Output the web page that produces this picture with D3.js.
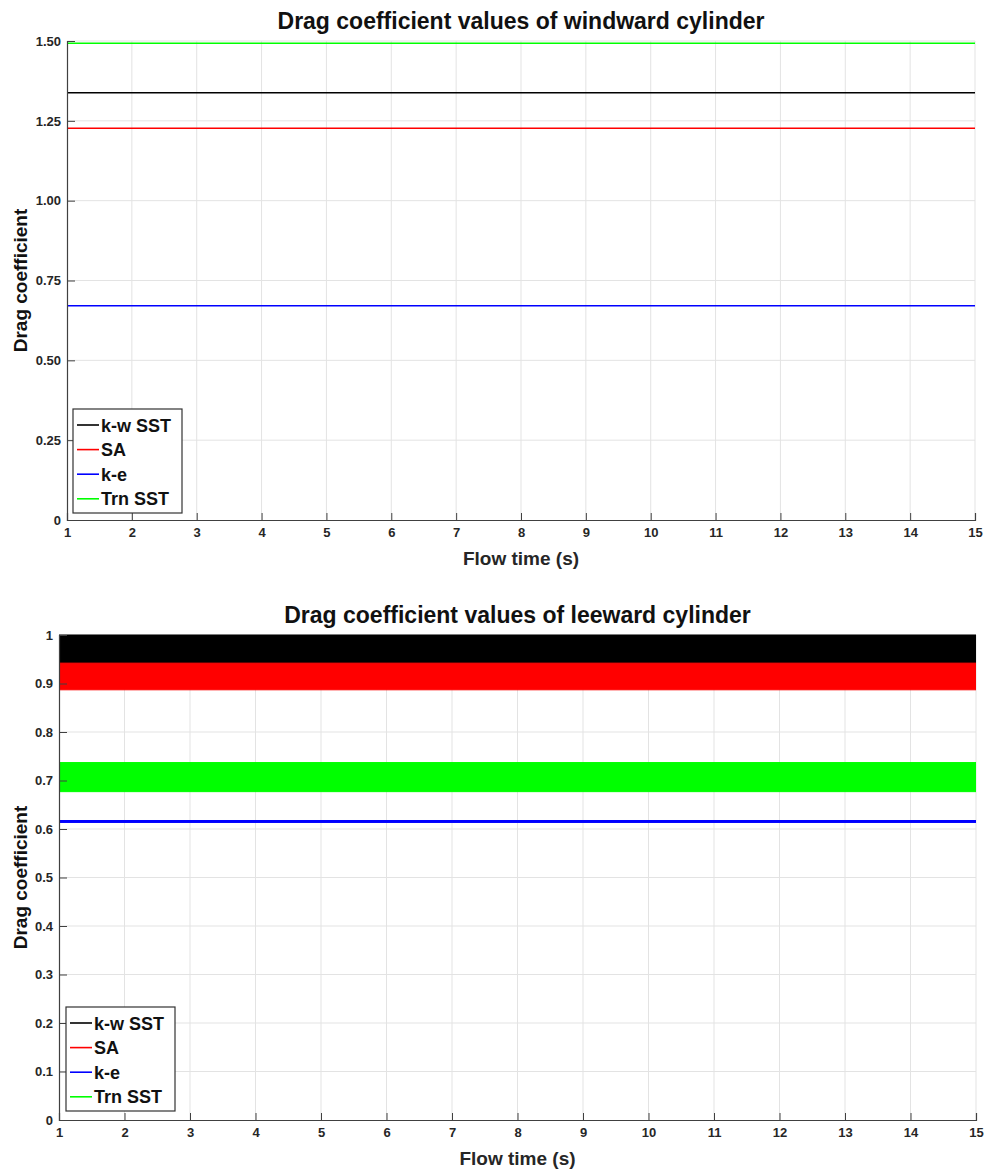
<!DOCTYPE html>
<html>
<head>
<meta charset="utf-8">
<script src="https://cdn.jsdelivr.net/npm/d3@7"></script>
<style>
  html, body { margin: 0; padding: 0; background: #fff; }
  svg { display: block; font-family: "Liberation Sans", Arial, sans-serif; }
</style>
</head>
<body>
<div id="chart"></div>
<script>
(() => {
"use strict";

const WIDTH = 988, HEIGHT = 1172;

// shared
const seriesNames = ["k-w SST", "SA", "k-e", "Trn SST"];
const seriesColors = ["#000000", "#ff0000", "#0000ff", "#00ff00"];
const timeSpan = [1, 15];
const xTicks = d3.range(1, 16);

// windward cylinder (lines, nearly flat)
const windwardValues = [1.338, 1.227, 0.671, 1.493];
const windwardTicks = [0, 0.25, 0.5, 0.75, 1.0, 1.25, 1.5];

// leeward cylinder (oscillating bands: min / max)
const leewardMin = [0.942, 0.887, 0.6135, 0.677];
const leewardMax = [1.0, 0.942, 0.6175, 0.737];
const leewardTicks = [0, 0.1, 0.2, 0.3, 0.4, 0.5, 0.6, 0.7, 0.8, 0.9, 1];

let svg = d3.select("#chart").append("svg")
  .attr("width", WIDTH)
  .attr("height", HEIGHT);

let drawPanel = function(opt) {
  let g = svg.append("g");

  let x = d3.scaleLinear().domain(timeSpan).range([opt.left, opt.right]);
  let y = d3.scaleLinear().domain(opt.yDomain).range([opt.bottom, opt.top]);

  // grid
  g.append("g").selectAll("line").data(xTicks.slice(1)).join("line")
    .attr("x1", d => x(d)).attr("x2", d => x(d))
    .attr("y1", opt.top).attr("y2", opt.bottom)
    .attr("stroke", "#e3e3e3").attr("stroke-width", 1);
  g.append("g").selectAll("line").data(opt.yTicks.slice(1)).join("line")
    .attr("x1", opt.left).attr("x2", opt.right)
    .attr("y1", d => y(d)).attr("y2", d => y(d))
    .attr("stroke", "#e3e3e3").attr("stroke-width", 1);

  // data
  let clipId = "clip" + opt.id;
  svg.append("clipPath").attr("id", clipId).append("rect")
    .attr("x", opt.left).attr("y", opt.top - 1)
    .attr("width", opt.right - opt.left).attr("height", opt.bottom - opt.top + 1);
  let dg = g.append("g").attr("clip-path", `url(#${clipId})`);

  if (opt.values) {
    let line = d3.line().x(d => x(d[0])).y(d => y(d[1]));
    opt.values.forEach((v, i) => {
      dg.append("path")
        .datum(timeSpan.map(t => [t, v]))
        .attr("d", line)
        .attr("fill", "none")
        .attr("stroke", seriesColors[i])
        .attr("stroke-width", 1.6);
    });
  } else {
    let area = d3.area().x(d => x(d[0])).y0(d => y(d[1])).y1(d => y(d[2]));
    opt.mins.forEach((v, i) => {
      dg.append("path")
        .datum(timeSpan.map(t => [t, v, opt.maxs[i]]))
        .attr("d", area)
        .attr("fill", seriesColors[i])
        .attr("stroke", seriesColors[i])
        .attr("stroke-width", 1);
    });
  }

  // axes
  let xAxis = d3.axisBottom(x).tickValues(xTicks).tickSize(-7).tickPadding(8).tickFormat(d3.format("d"));
  let gx = g.append("g").attr("transform", `translate(0,${opt.bottom})`).call(xAxis);
  let yAxis = d3.axisLeft(y).tickValues(opt.yTicks).tickSize(-8).tickPadding(6).tickFormat(opt.fmt);
  let gy = g.append("g").attr("transform", `translate(${opt.left},0)`).call(yAxis);
  [gx, gy].forEach(a => {
    a.select(".domain").attr("stroke", "#404040").attr("stroke-width", 1.2);
    a.selectAll(".tick line").attr("stroke", "#404040");
    a.selectAll(".tick text")
      .attr("fill", "#262626")
      .attr("font-size", 13)
      .attr("font-weight", "bold")
      .attr("font-family", "Liberation Sans, Arial, sans-serif");
  });

  // titles
  g.append("text")
    .attr("x", (opt.left + opt.right) / 2).attr("y", opt.titleY)
    .attr("text-anchor", "middle")
    .attr("font-size", 23).attr("font-weight", "bold").attr("fill", "#111")
    .text(opt.title);
  g.append("text")
    .attr("x", (opt.left + opt.right) / 2).attr("y", opt.bottom + 45)
    .attr("text-anchor", "middle")
    .attr("font-size", 19).attr("font-weight", "bold").attr("fill", "#262626")
    .text("Flow time (s)");
  g.append("text")
    .attr("transform", `translate(27,${(opt.top + opt.bottom) / 2}) rotate(-90)`)
    .attr("text-anchor", "middle")
    .attr("font-size", 19).attr("font-weight", "bold").attr("fill", "#111")
    .text("Drag coefficient");

  // legend
  let lg = g.append("g").attr("transform", `translate(${opt.legX},${opt.legY})`);
  lg.append("rect")
    .attr("width", 109).attr("height", 104)
    .attr("fill", "#fff").attr("stroke", "#333").attr("stroke-width", 1.2);
  seriesNames.forEach((name, i) => {
    let yy = 16 + i * 24.6;
    lg.append("line")
      .attr("x1", 4).attr("x2", 26).attr("y1", yy).attr("y2", yy)
      .attr("stroke", seriesColors[i]).attr("stroke-width", 1.6);
    lg.append("text")
      .attr("x", 28).attr("y", yy + 6.5)
      .attr("font-size", 18).attr("font-weight", "bold").attr("fill", "#111")
      .text(name);
  });
};

drawPanel({
  id: 1,
  title: "Drag coefficient values of windward cylinder",
  yDomain: [0, 1.5], yTicks: windwardTicks, fmt: d => d === 0 ? "0" : d3.format(".2f")(d),
  left: 67, right: 975, top: 41, bottom: 520, titleY: 29,
  values: windwardValues,
  legX: 73, legY: 409
});

drawPanel({
  id: 2,
  title: "Drag coefficient values of leeward cylinder",
  yDomain: [0, 1], yTicks: leewardTicks, fmt: d => d === 0 ? "0" : d === 1 ? "1" : d3.format(".1f")(d),
  left: 59, right: 976, top: 635, bottom: 1120, titleY: 623,
  mins: leewardMin, maxs: leewardMax,
  legX: 66, legY: 1007
});

})();
</script>
</body>
</html>
